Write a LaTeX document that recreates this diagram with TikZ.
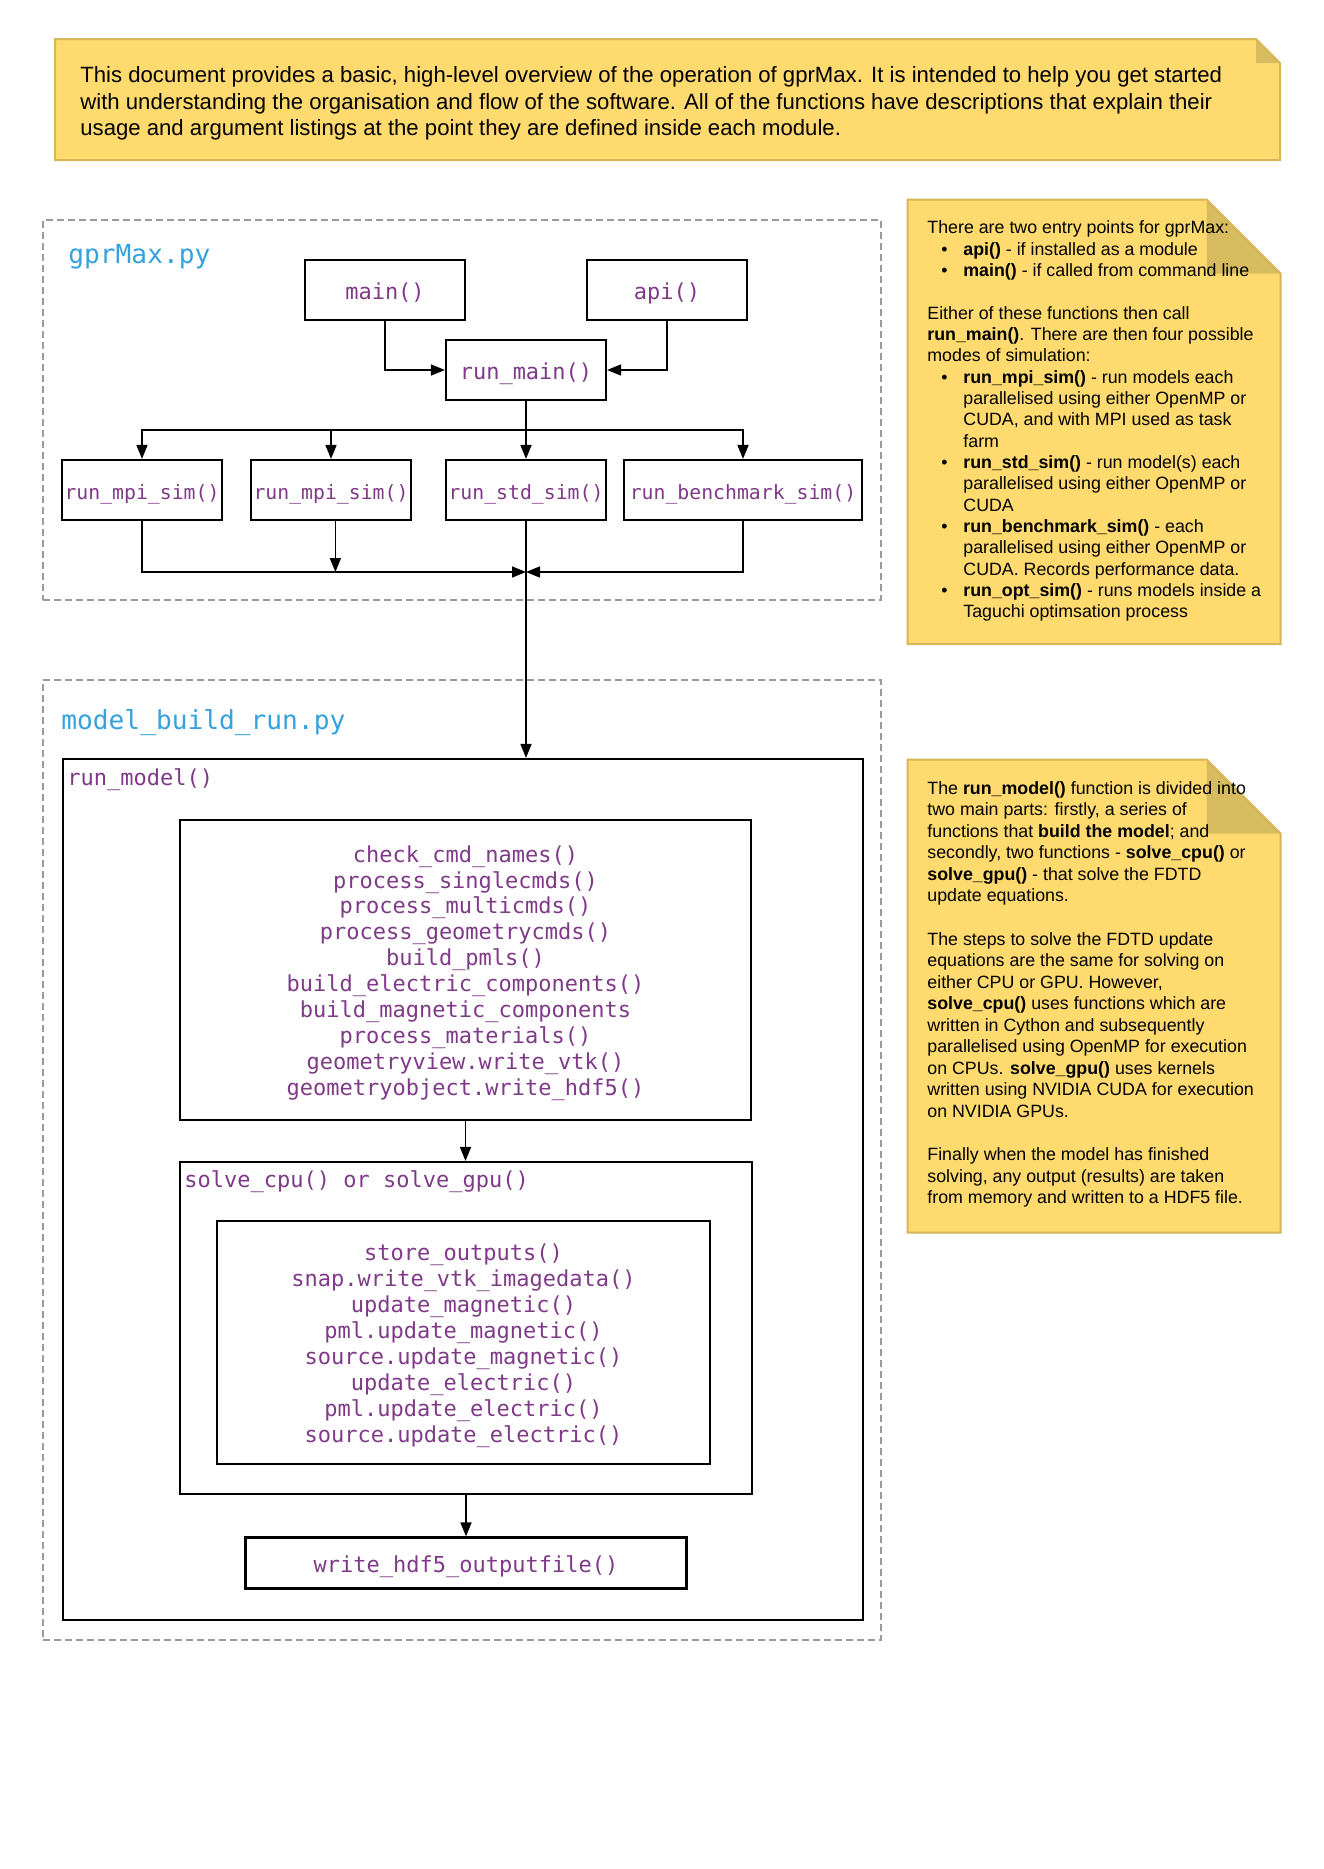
\documentclass[tikz,border=0pt]{standalone}
\usepackage{fontspec}
\setmainfont{Liberation Sans}
\newfontfamily\codefont{DejaVu Sans Mono}
\usetikzlibrary{arrows.meta}
\definecolor{notefill}{HTML}{FFDB6F}
\definecolor{noteline}{HTML}{D6B656}
\definecolor{notefold}{HTML}{D6BC5E}
\definecolor{codepurple}{HTML}{7E3A87}
\definecolor{titleblue}{HTML}{35A2DE}
\definecolor{dashgray}{HTML}{9A9A9A}
\newcommand\bitem[1]{\hspace*{7pt}\makebox[11pt][l]{\textbullet}#1}
\newcommand\bcont[1]{\hspace*{18pt}#1}
\begin{document}
\begin{tikzpicture}[x=0.5pt,y=-0.5pt,
  fnbox/.style={draw, line width=1.1pt, inner sep=1pt, text=codepurple,
    font=\codefont\fontsize{11}{13.2}\selectfont, text height=0.9em, text depth=0pt,
    minimum height=30pt},
  smallfn/.style={fnbox, font=\codefont\fontsize{9.9}{11.9}\selectfont},
  frame/.style={draw, line width=1.1pt, inner sep=0pt},
  dashbox/.style={draw=dashgray, line width=1.15pt, dash pattern=on 3.4pt off 2.1pt, inner sep=0pt},
  grouptitle/.style={text=titleblue, font=\codefont\fontsize{13.1}{15.7}\selectfont, inner sep=0pt, anchor=base west},
  fnlabel/.style={text=codepurple, font=\codefont\fontsize{11}{13.2}\selectfont, inner sep=0pt, anchor=base west},
  codelines/.style={text=codepurple, inner sep=0pt, anchor=north, align=center},
  notetext/.style={inner sep=0pt, anchor=north west, align=left, text=black},
  arr/.style={draw, line width=0.85pt, -{Triangle[length=7pt,width=5.5pt]}},
  noteborder/.style={draw=noteline, line width=1pt, line join=miter}
]
\useasboundingbox (0,0) rectangle (1323,1869);

% ---------- top note ----------
\fill[notefill] (55,39) -- (1256,39) -- (1280,63) -- (1280,160) -- (55,160) -- cycle;
\fill[notefold] (1256,39) -- (1256,63) -- (1280,63) -- cycle;
\draw[noteborder] (55,39) -- (1256,39) -- (1280,63) -- (1280,160) -- (55,160) -- cycle;
\node[notetext, font=\fontsize{11.07}{13.25}\selectfont] (intro) at (80,64)
 {\strut This document provides a basic, high-level overview of the operation of gprMax. It is intended to help you get started\\
  with understanding the organisation and flow of the software. All of the functions have descriptions that explain their\\
  usage and argument listings at the point they are defined inside each module.};

% ---------- right note 1 ----------
\fill[notefill] (907.5,199.5) -- (1206.5,199.5) -- (1280.5,273.5) -- (1280.5,644) -- (907.5,644) -- cycle;
\fill[notefold] (1206.5,199.5) -- (1206.5,273.5) -- (1280.5,273.5) -- cycle;
\draw[noteborder] (907.5,199.5) -- (1206.5,199.5) -- (1280.5,273.5) -- (1280.5,644) -- (907.5,644) -- cycle;
\node[notetext, font=\fontsize{8.9}{10.67}\selectfont] (note1) at (927,218.4)
 {\strut There are two entry points for gprMax:\\
  \bitem{\textbf{api()} - if installed as a module}\\
  \bitem{\textbf{main()} - if called from command line}\\
  \\
  Either of these functions then call\\
  \textbf{run\_main()}. There are then four possible\\
  modes of simulation:\\
  \bitem{\textbf{run\_mpi\_sim()} - run models each}\\
  \bcont{parallelised using either OpenMP or}\\
  \bcont{CUDA, and with MPI used as task}\\
  \bcont{farm}\\
  \bitem{\textbf{run\_std\_sim()} - run model(s) each}\\
  \bcont{parallelised using either OpenMP or}\\
  \bcont{CUDA}\\
  \bitem{\textbf{run\_benchmark\_sim()} - each}\\
  \bcont{parallelised using either OpenMP or}\\
  \bcont{CUDA. Records performance data.}\\
  \bitem{\textbf{run\_opt\_sim()} - runs models inside a}\\
  \bcont{Taguchi optimsation process}};

% ---------- right note 2 ----------
\fill[notefill] (907.5,759.5) -- (1206.5,759.5) -- (1280.5,833.5) -- (1280.5,1232.5) -- (907.5,1232.5) -- cycle;
\fill[notefold] (1206.5,759.5) -- (1206.5,833.5) -- (1280.5,833.5) -- cycle;
\draw[noteborder] (907.5,759.5) -- (1206.5,759.5) -- (1280.5,833.5) -- (1280.5,1232.5) -- (907.5,1232.5) -- cycle;
\node[notetext, font=\fontsize{8.9}{10.78}\selectfont] (note2) at (927,778.6)
 {\strut The \textbf{run\_model()} function is divided into\\
  two main parts: firstly, a series of\\
  functions that \textbf{build the model}; and\\
  secondly, two functions - \textbf{solve\_cpu()} or\\
  \textbf{solve\_gpu()} - that solve the FDTD\\
  update equations.\\
  \\
  The steps to solve the FDTD update\\
  equations are the same for solving on\\
  either CPU or GPU. However,\\
  \textbf{solve\_cpu()} uses functions which are\\
  written in Cython and subsequently\\
  parallelised using OpenMP for execution\\
  on CPUs. \textbf{solve\_gpu()} uses kernels\\
  written using NVIDIA CUDA for execution\\
  on NVIDIA GPUs.\\
  \\
  Finally when the model has finished\\
  solving, any output (results) are taken\\
  from memory and written to a HDF5 file.};

% ---------- gprMax.py group ----------
\node[dashbox, minimum width=419pt, minimum height=190pt] (grp1) at (462,410) {};
\node[grouptitle] (grp1title) at (68,263) {gprMax.py};

\node[fnbox, minimum width=80pt] (main) at (385,290) {main()};
\node[fnbox, minimum width=80pt] (api) at (667,290) {api()};
\node[fnbox, minimum width=80pt] (runmain) at (526,370) {run\_main()};
\node[smallfn, minimum width=80pt] (mpi1) at (142,490) {run\_mpi\_sim()};
\node[smallfn, minimum width=80pt] (mpi2) at (331,490) {run\_mpi\_sim()};
\node[smallfn, minimum width=80pt] (std) at (526,490) {run\_std\_sim()};
\node[smallfn, minimum width=119pt] (bench) at (743,490) {run\_benchmark\_sim()};

\coordinate (bus) at (526,430);
\coordinate (join) at (526,572);

\draw[arr] (main.south) |- (runmain.west);
\draw[arr] (api.south) |- (runmain.east);
\draw[arr] (runmain.south) -- (std.north);
\draw[arr] (bus) -| (mpi1.north);
\draw[arr] (bus) -| (mpi2.north);
\draw[arr] (bus) -| (bench.north);
\draw[arr] (mpi1.south) |- (join);
\draw[arr] (bench.south) |- (join);
\draw[arr] ([xshift=2.2pt]mpi2.south) -- ([xshift=2.2pt]mpi2.south |- join);

% ---------- model_build_run.py group ----------
\node[dashbox, minimum width=419pt, minimum height=480pt] (grp2) at (462,1160) {};
\node[grouptitle] (grp2title) at (61,729) {model\_build\_run.py};

\node[frame, minimum width=400pt, minimum height=430.5pt] (runmodel) at (463,1189.5) {};
\node[fnlabel] (runmodellabel) at (67,785) {run\_model()};

\draw[arr] (std.south) -- (std.south |- runmodel.north);

\node[frame, minimum width=285.5pt, minimum height=150pt] (build) at (465.5,970) {};
\node[codelines, font=\codefont\fontsize{11}{12.95}\selectfont] (buildcode) at (465.5,843.6)
 {\strut check\_cmd\_names()\\
  process\_singlecmds()\\
  process\_multicmds()\\
  process\_geometrycmds()\\
  build\_pmls()\\
  build\_electric\_components()\\
  build\_magnetic\_components\\
  process\_materials()\\
  geometryview.write\_vtk()\\
  geometryobject.write\_hdf5()};

\node[frame, minimum width=286pt, minimum height=166pt] (solve) at (466,1328) {};
\node[fnlabel] (solvelabel) at (184,1187.5) {solve\_cpu() or solve\_gpu()};

\node[frame, minimum width=246.5pt, minimum height=121.5pt] (inner) at (463.5,1342.5) {};
\node[codelines, font=\codefont\fontsize{11}{12.975}\selectfont] (innercode) at (463.5,1241.8)
 {\strut store\_outputs()\\
  snap.write\_vtk\_imagedata()\\
  update\_magnetic()\\
  pml.update\_magnetic()\\
  source.update\_magnetic()\\
  update\_electric()\\
  pml.update\_electric()\\
  source.update\_electric()};

\node[fnbox, minimum width=220.5pt, minimum height=25.5pt] (write) at (466,1563) {write\_hdf5\_outputfile()};

\draw[arr] (build.south) -- (build.south |- solve.north);
\draw[arr] (solve.south) -- (solve.south |- write.north);
\end{tikzpicture}
\end{document}
